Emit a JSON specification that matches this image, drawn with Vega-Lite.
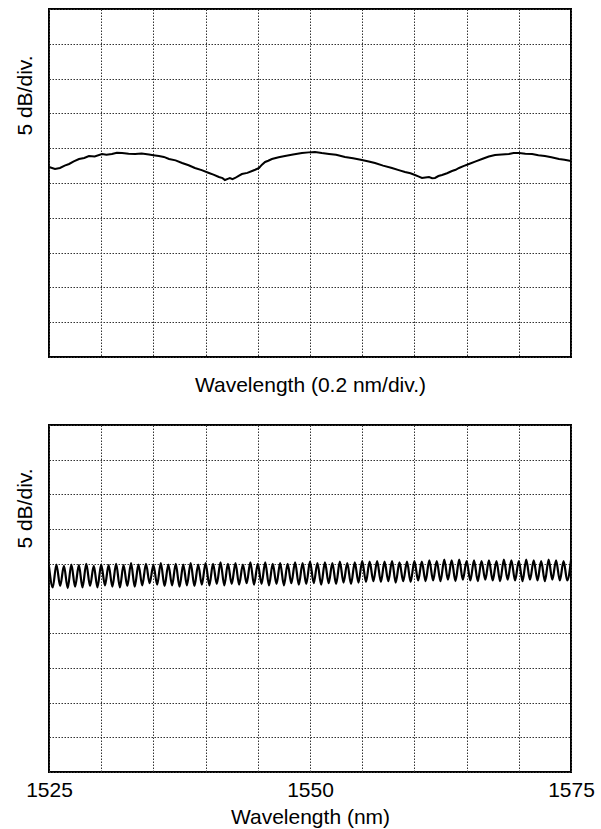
{
  "$schema": "https://vega.github.io/schema/vega-lite/v6.json",
  "padding": {"left": 13, "top": 8, "right": 0, "bottom": 0},
  "autosize": {"type": "pad"},
  "spacing": 28,
  "background": "#ffffff",
  "config": {
    "view": {"stroke": "#000000", "strokeWidth": 2},
    "font": "Liberation Sans",
    "axis": {
      "grid": true, "gridColor": "#333333", "gridDash": [1.5, 1.5], "gridWidth": 1, "gridOpacity": 1,
      "domain": false, "ticks": false,
      "labelFontSize": 21, "titleFontSize": 21, "titleFontWeight": "normal",
      "labelColor": "#000000", "titleColor": "#000000", "labelFont": "Liberation Sans", "titleFont": "Liberation Sans"
    }
  },
  "vconcat": [
    {
      "width": 522,
      "height": 348,
      "data": {"values": [
        {"x": 0.000, "y": 27.30}, {"x": 0.023, "y": 27.01}, {"x": 0.042, "y": 27.16}, {"x": 0.060, "y": 27.50},
        {"x": 0.077, "y": 27.73}, {"x": 0.095, "y": 28.10}, {"x": 0.115, "y": 28.45}, {"x": 0.135, "y": 28.60},
        {"x": 0.153, "y": 28.88}, {"x": 0.175, "y": 28.80}, {"x": 0.203, "y": 29.17}, {"x": 0.220, "y": 29.05},
        {"x": 0.241, "y": 29.17}, {"x": 0.260, "y": 29.35}, {"x": 0.280, "y": 29.31}, {"x": 0.305, "y": 29.20},
        {"x": 0.330, "y": 29.17}, {"x": 0.355, "y": 29.25}, {"x": 0.383, "y": 29.10}, {"x": 0.400, "y": 29.00},
        {"x": 0.421, "y": 28.88}, {"x": 0.440, "y": 28.75}, {"x": 0.460, "y": 28.45}, {"x": 0.485, "y": 28.25},
        {"x": 0.510, "y": 27.87}, {"x": 0.535, "y": 27.55}, {"x": 0.559, "y": 27.16}, {"x": 0.585, "y": 26.85},
        {"x": 0.613, "y": 26.44}, {"x": 0.630, "y": 26.20}, {"x": 0.651, "y": 25.86}, {"x": 0.665, "y": 25.70},
        {"x": 0.674, "y": 25.43}, {"x": 0.685, "y": 25.60}, {"x": 0.693, "y": 25.72}, {"x": 0.703, "y": 25.55},
        {"x": 0.713, "y": 25.72}, {"x": 0.725, "y": 26.00}, {"x": 0.739, "y": 26.29}, {"x": 0.760, "y": 26.45},
        {"x": 0.778, "y": 26.72}, {"x": 0.790, "y": 26.90}, {"x": 0.805, "y": 27.16}, {"x": 0.815, "y": 27.60},
        {"x": 0.828, "y": 28.02}, {"x": 0.840, "y": 28.20}, {"x": 0.854, "y": 28.45}, {"x": 0.880, "y": 28.70},
        {"x": 0.904, "y": 28.88}, {"x": 0.935, "y": 29.10}, {"x": 0.969, "y": 29.31}, {"x": 0.995, "y": 29.40},
        {"x": 1.019, "y": 29.45}, {"x": 1.045, "y": 29.30}, {"x": 1.073, "y": 29.17}, {"x": 1.100, "y": 29.05},
        {"x": 1.134, "y": 28.74}, {"x": 1.165, "y": 28.55}, {"x": 1.199, "y": 28.30}, {"x": 1.225, "y": 28.10},
        {"x": 1.249, "y": 27.87}, {"x": 1.280, "y": 27.50}, {"x": 1.314, "y": 27.16}, {"x": 1.340, "y": 26.85},
        {"x": 1.364, "y": 26.58}, {"x": 1.385, "y": 26.40}, {"x": 1.402, "y": 26.15}, {"x": 1.415, "y": 25.95},
        {"x": 1.429, "y": 25.72}, {"x": 1.442, "y": 25.80}, {"x": 1.456, "y": 25.86}, {"x": 1.468, "y": 25.70},
        {"x": 1.479, "y": 25.72}, {"x": 1.492, "y": 26.00}, {"x": 1.506, "y": 26.15}, {"x": 1.525, "y": 26.40},
        {"x": 1.544, "y": 26.72}, {"x": 1.558, "y": 26.90}, {"x": 1.571, "y": 27.16}, {"x": 1.590, "y": 27.45},
        {"x": 1.609, "y": 27.73}, {"x": 1.635, "y": 28.10}, {"x": 1.659, "y": 28.45}, {"x": 1.685, "y": 28.80},
        {"x": 1.709, "y": 29.02}, {"x": 1.735, "y": 29.10}, {"x": 1.762, "y": 29.17}, {"x": 1.780, "y": 29.30},
        {"x": 1.801, "y": 29.31}, {"x": 1.825, "y": 29.20}, {"x": 1.851, "y": 29.17}, {"x": 1.875, "y": 29.00},
        {"x": 1.900, "y": 28.88}, {"x": 1.925, "y": 28.70}, {"x": 1.954, "y": 28.45}, {"x": 1.975, "y": 28.35},
        {"x": 2.000, "y": 28.16}
      ]},
      "mark": {"type": "line", "color": "#000000", "strokeWidth": 2},
      "encoding": {
        "x": {
          "field": "x", "type": "quantitative",
          "scale": {"domain": [0, 2], "nice": false, "zero": false},
          "axis": {
            "values": [0, 0.2, 0.4, 0.6, 0.8, 1.0, 1.2, 1.4, 1.6, 1.8, 2.0],
            "labels": false, "title": "Wavelength (0.2 nm/div.)", "titlePadding": 17
          }
        },
        "y": {
          "field": "y", "type": "quantitative",
          "scale": {"domain": [0, 50], "nice": false},
          "axis": {
            "values": [0, 5, 10, 15, 20, 25, 30, 35, 40, 45, 50],
            "labels": false, "title": "5 dB/div.", "titlePadding": 14,
            "titleY": 86, "titleAlign": "center", "titleAngle": -90
          }
        }
      }
    },
    {
      "width": 522,
      "height": 347,
      "data": {"values": [
        {"x": 1525.00, "y": 29.6}, {"x": 1525.36, "y": 26.6}, {"x": 1525.71, "y": 29.9}, {"x": 1526.07, "y": 26.8},
        {"x": 1526.43, "y": 29.7}, {"x": 1526.79, "y": 26.5}, {"x": 1527.14, "y": 29.9}, {"x": 1527.50, "y": 26.7},
        {"x": 1527.86, "y": 29.8}, {"x": 1528.21, "y": 26.6}, {"x": 1528.57, "y": 30.0}, {"x": 1528.93, "y": 26.8},
        {"x": 1529.29, "y": 29.7}, {"x": 1529.64, "y": 26.6}, {"x": 1530.00, "y": 29.9}, {"x": 1530.36, "y": 26.9},
        {"x": 1530.71, "y": 29.8}, {"x": 1531.07, "y": 26.7}, {"x": 1531.43, "y": 30.0}, {"x": 1531.79, "y": 26.6},
        {"x": 1532.14, "y": 29.8}, {"x": 1532.50, "y": 26.8}, {"x": 1532.86, "y": 30.1}, {"x": 1533.21, "y": 26.7},
        {"x": 1533.57, "y": 29.9}, {"x": 1533.93, "y": 26.9}, {"x": 1534.29, "y": 30.0}, {"x": 1534.64, "y": 27.2},
        {"x": 1535.00, "y": 29.8}, {"x": 1535.36, "y": 27.0}, {"x": 1535.71, "y": 30.1}, {"x": 1536.07, "y": 26.8},
        {"x": 1536.43, "y": 29.9}, {"x": 1536.79, "y": 26.9}, {"x": 1537.14, "y": 30.0}, {"x": 1537.50, "y": 26.7},
        {"x": 1537.86, "y": 29.9}, {"x": 1538.21, "y": 26.9}, {"x": 1538.57, "y": 30.1}, {"x": 1538.93, "y": 26.8},
        {"x": 1539.29, "y": 29.9}, {"x": 1539.64, "y": 27.0}, {"x": 1540.00, "y": 30.1}, {"x": 1540.36, "y": 26.9},
        {"x": 1540.71, "y": 30.0}, {"x": 1541.07, "y": 27.1}, {"x": 1541.43, "y": 30.2}, {"x": 1541.79, "y": 26.9},
        {"x": 1542.14, "y": 30.0}, {"x": 1542.50, "y": 27.1}, {"x": 1542.86, "y": 30.1}, {"x": 1543.21, "y": 27.0},
        {"x": 1543.57, "y": 29.9}, {"x": 1543.93, "y": 27.2}, {"x": 1544.29, "y": 30.2}, {"x": 1544.64, "y": 27.0},
        {"x": 1545.00, "y": 30.0}, {"x": 1545.36, "y": 27.1}, {"x": 1545.71, "y": 30.2}, {"x": 1546.07, "y": 26.9},
        {"x": 1546.43, "y": 30.0}, {"x": 1546.79, "y": 27.1}, {"x": 1547.14, "y": 30.1}, {"x": 1547.50, "y": 26.9},
        {"x": 1547.86, "y": 30.0}, {"x": 1548.21, "y": 27.2}, {"x": 1548.57, "y": 30.2}, {"x": 1548.93, "y": 27.0},
        {"x": 1549.29, "y": 30.1}, {"x": 1549.64, "y": 27.1}, {"x": 1550.00, "y": 30.3}, {"x": 1550.36, "y": 27.2},
        {"x": 1550.71, "y": 30.1}, {"x": 1551.07, "y": 27.0}, {"x": 1551.43, "y": 30.2}, {"x": 1551.79, "y": 27.2},
        {"x": 1552.14, "y": 30.1}, {"x": 1552.50, "y": 27.1}, {"x": 1552.86, "y": 30.3}, {"x": 1553.21, "y": 27.3},
        {"x": 1553.57, "y": 30.1}, {"x": 1553.93, "y": 27.1}, {"x": 1554.29, "y": 30.2}, {"x": 1554.64, "y": 27.3},
        {"x": 1555.00, "y": 30.4}, {"x": 1555.36, "y": 27.4}, {"x": 1555.71, "y": 30.3}, {"x": 1556.07, "y": 27.5},
        {"x": 1556.43, "y": 30.4}, {"x": 1556.79, "y": 27.4}, {"x": 1557.14, "y": 30.3}, {"x": 1557.50, "y": 27.5},
        {"x": 1557.86, "y": 30.4}, {"x": 1558.21, "y": 27.3}, {"x": 1558.57, "y": 30.2}, {"x": 1558.93, "y": 27.5},
        {"x": 1559.29, "y": 30.3}, {"x": 1559.64, "y": 27.4}, {"x": 1560.00, "y": 30.4}, {"x": 1560.36, "y": 27.6},
        {"x": 1560.71, "y": 30.3}, {"x": 1561.07, "y": 27.5}, {"x": 1561.43, "y": 30.5}, {"x": 1561.79, "y": 27.6},
        {"x": 1562.14, "y": 30.4}, {"x": 1562.50, "y": 27.5}, {"x": 1562.86, "y": 30.6}, {"x": 1563.21, "y": 27.7},
        {"x": 1563.57, "y": 30.5}, {"x": 1563.93, "y": 27.5}, {"x": 1564.29, "y": 30.6}, {"x": 1564.64, "y": 27.7},
        {"x": 1565.00, "y": 30.4}, {"x": 1565.36, "y": 27.6}, {"x": 1565.71, "y": 30.5}, {"x": 1566.07, "y": 27.5},
        {"x": 1566.43, "y": 30.4}, {"x": 1566.79, "y": 27.7}, {"x": 1567.14, "y": 30.5}, {"x": 1567.50, "y": 27.6},
        {"x": 1567.86, "y": 30.4}, {"x": 1568.21, "y": 27.5}, {"x": 1568.57, "y": 30.6}, {"x": 1568.93, "y": 27.7},
        {"x": 1569.29, "y": 30.5}, {"x": 1569.64, "y": 27.6}, {"x": 1570.00, "y": 30.4}, {"x": 1570.36, "y": 27.5},
        {"x": 1570.71, "y": 30.6}, {"x": 1571.07, "y": 27.7}, {"x": 1571.43, "y": 30.5}, {"x": 1571.79, "y": 27.6},
        {"x": 1572.14, "y": 30.4}, {"x": 1572.50, "y": 27.5}, {"x": 1572.86, "y": 30.6}, {"x": 1573.21, "y": 27.7},
        {"x": 1573.57, "y": 30.5}, {"x": 1573.93, "y": 27.6}, {"x": 1574.29, "y": 30.4}, {"x": 1574.64, "y": 27.6},
        {"x": 1575.00, "y": 30.5}
      ]},
      "mark": {"type": "line", "color": "#000000", "strokeWidth": 2.2, "interpolate": "monotone"},
      "encoding": {
        "x": {
          "field": "x", "type": "quantitative",
          "scale": {"domain": [1525, 1575], "nice": false, "zero": false},
          "axis": {
            "values": [1525, 1530, 1535, 1540, 1545, 1550, 1555, 1560, 1565, 1570, 1575],
            "format": "d",
            "labelExpr": "datum.value % 25 === 0 ? datum.label : ''",
            "labelFlush": false, "labelOverlap": false, "labelPadding": 7,
            "title": "Wavelength (nm)", "titlePadding": 6
          }
        },
        "y": {
          "field": "y", "type": "quantitative",
          "scale": {"domain": [0, 50], "nice": false},
          "axis": {
            "values": [0, 5, 10, 15, 20, 25, 30, 35, 40, 45, 50],
            "labels": false, "title": "5 dB/div.", "titlePadding": 14,
            "titleY": 83, "titleAlign": "center", "titleAngle": -90
          }
        }
      }
    }
  ]
}
